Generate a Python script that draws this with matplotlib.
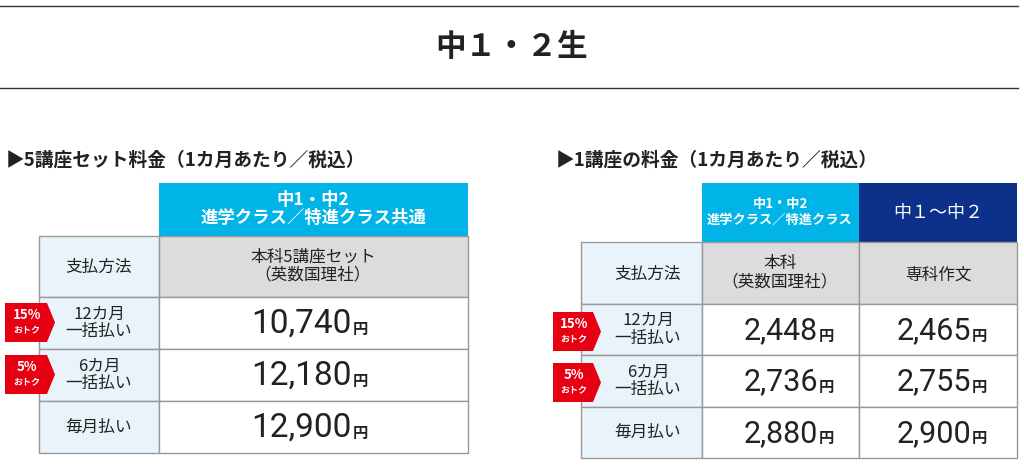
import matplotlib.pyplot as plt
from matplotlib.patches import Rectangle, Polygon

plt.rcParams["font.family"] = "Noto Sans CJK JP"

# data
page_title = "中１・２生"
left_title = "▶5講座セット料金（1カ月あたり／税込）"
right_title = "▶1講座の料金（1カ月あたり／税込）"
pay_methods = ["12カ月\n一括払い", "6カ月\n一括払い", "毎月払い"]
badges = ["15%\nおトク", "5%\nおトク", None]
left_prices = [10740, 12180, 12900]
right_main_prices = [2448, 2736, 2880]
right_essay_prices = [2465, 2755, 2900]

CYAN = "#00b4e8"
NAVY = "#0d318a"
GRAY = "#dcdcdc"
LIGHT = "#e8f4f9"
LINE = "#999999"
RED = "#e60012"
TXT = "#222222"

fig = plt.figure(figsize=(10.24, 4.76), dpi=100)
ax = fig.add_axes([0, 0, 1, 1])
ax.set_xlim(0, 1024)
ax.set_ylim(476, 0)
ax.axis("off")


def box(x0, y0, x1, y1, fc, ec=LINE, lw=1.0):
    ax.add_patch(Rectangle((x0, y0), x1 - x0, y1 - y0, facecolor=fc, edgecolor=ec, linewidth=lw))


def price(xr, yc, v, size=24):
    ax.text(xr, yc + 1, f"{v:,}", ha="right", va="center", fontsize=size, color=TXT,
            family="Roboto")
    ax.text(xr + 1, yc + 6, "円", ha="left", va="center", fontsize=11, color=TXT, fontweight="bold")


def badge(x0, y0, w, h, label):
    ax.add_patch(Polygon([(x0, y0), (x0 + w - 8, y0), (x0 + w, y0 + h / 2),
                          (x0 + w - 8, y0 + h), (x0, y0 + h)], closed=True,
                         facecolor=RED, edgecolor="none"))
    top, bot = label.split("\n")
    ax.text(x0 + (w - 8) / 2 + 1, y0 + h * 0.32, top, ha="center", va="center",
            color="white", fontsize=9.5, fontweight="bold")
    ax.text(x0 + (w - 8) / 2 + 1, y0 + h * 0.72, bot, ha="center", va="center",
            color="white", fontsize=6.5, fontweight="bold")


# page header
ax.plot([0, 1018], [6, 6], color="#333333", lw=1)
ax.plot([0, 1018], [88, 88], color="#333333", lw=1)
ax.text(512, 47, page_title, ha="center", va="center", fontsize=22, fontweight="bold", color=TXT)

# left table
ax.text(6, 160, left_title, ha="left", va="center", fontsize=13.5, fontweight="bold", color=TXT)
box(159, 183, 468, 236, CYAN, ec="none")
ax.text(313, 209, "中1・中2\n進学クラス／特進クラス共通", ha="center", va="center",
        fontsize=12.5, color="white", fontweight="bold", linespacing=1.05)
box(39, 236, 159, 297, LIGHT)
ax.text(99, 267, "支払方法", ha="center", va="center", fontsize=12, color=TXT)
box(159, 236, 468, 297, GRAY)
ax.text(313, 266, "本科5講座セット\n（英数国理社）", ha="center", va="center", fontsize=12,
        color=TXT, linespacing=1.1)
row_y = [297, 349, 401, 453]
for i in range(3):
    y0, y1 = row_y[i], row_y[i + 1]
    yc = (y0 + y1) / 2
    box(39, y0, 159, y1, LIGHT)
    box(159, y0, 468, y1, "white")
    ax.text(99, yc, pay_methods[i], ha="center", va="center", fontsize=12, color=TXT, linespacing=1.05)
    price(352, yc, left_prices[i])
    if badges[i]:
        badge(5, y0 + 6, 50, 39, badges[i])

# right table
ax.text(556, 160, right_title, ha="left", va="center", fontsize=13.5, fontweight="bold", color=TXT)
box(702, 183, 859, 242, CYAN, ec="none")
ax.text(780, 212, "中1・中2\n進学クラス／特進クラス", ha="center", va="center",
        fontsize=9.5, color="white", fontweight="bold", linespacing=1.15)
box(859, 183, 1017, 242, NAVY, ec="none")
ax.text(938, 213, "中１～中２", ha="center", va="center", fontsize=13, color="white")
box(581, 242, 702, 304, LIGHT)
ax.text(648, 274, "支払方法", ha="center", va="center", fontsize=12, color=TXT)
box(702, 242, 859, 304, GRAY)
ax.text(780, 273, "本科\n（英数国理社）", ha="center", va="center", fontsize=12, color=TXT, linespacing=1.1)
box(859, 242, 1017, 304, GRAY)
ax.text(938, 275, "専科作文", ha="center", va="center", fontsize=12, color=TXT)
row_y = [304, 355, 407, 458]
for i in range(3):
    y0, y1 = row_y[i], row_y[i + 1]
    yc = (y0 + y1) / 2
    box(581, y0, 702, y1, LIGHT)
    box(702, y0, 859, y1, "white")
    box(859, y0, 1017, y1, "white")
    ax.text(648, yc, pay_methods[i], ha="center", va="center", fontsize=12, color=TXT, linespacing=1.05)
    price(818, yc, right_main_prices[i], size=22)
    price(971, yc, right_essay_prices[i], size=22)
    if badges[i]:
        badge(553, y0 + 8, 48, 39, badges[i])

fig.savefig("out.png", dpi=100)
